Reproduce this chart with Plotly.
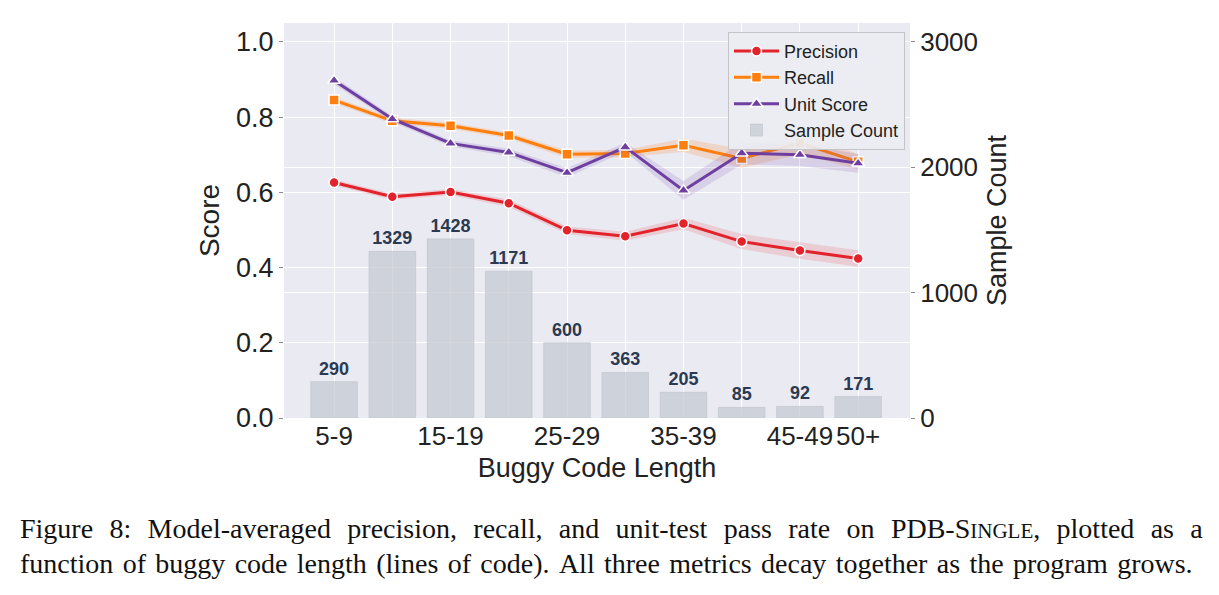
import plotly.graph_objects as go

categories = ["5-9", "10-14", "15-19", "20-24", "25-29", "30-34", "35-39", "40-44", "45-49", "50+"]
tick_labels = ["5-9", "", "15-19", "", "25-29", "", "35-39", "", "45-49", "50+"]
sample_count = [290, 1329, 1428, 1171, 600, 363, 205, 85, 92, 171]
precision = [0.626, 0.588, 0.601, 0.571, 0.499, 0.483, 0.517, 0.469, 0.445, 0.424]
recall = [0.845, 0.790, 0.777, 0.751, 0.701, 0.703, 0.725, 0.690, 0.731, 0.681]
unit_score = [0.897, 0.795, 0.730, 0.706, 0.652, 0.720, 0.605, 0.704, 0.700, 0.677]
precision_ci = [0.008, 0.008, 0.008, 0.010, 0.010, 0.012, 0.015, 0.020, 0.022, 0.022]
recall_ci = [0.008, 0.008, 0.008, 0.008, 0.010, 0.010, 0.018, 0.025, 0.030, 0.020]
unit_ci = [0.010, 0.008, 0.008, 0.010, 0.012, 0.012, 0.025, 0.030, 0.030, 0.025]

caption_line1 = ["Figure", "8:", "Model-averaged", "precision,", "recall,", "and", "unit-test",
                 "pass", "rate", "on", "PDB-S<span style='font-size:21px'>INGLE</span>,",
                 "plotted", "as", "a"]
caption_line2 = ["function", "of", "buggy", "code", "length", "(lines", "of", "code).", "All",
                 "three", "metrics", "decay", "together", "as", "the", "program", "grows."]

x = list(range(len(categories)))

fig = go.Figure()

# bars on primary axis (displayed on right)
fig.add_trace(go.Bar(
    x=x, y=sample_count, name="Sample Count", width=0.8,
    marker=dict(color="rgba(195,201,208,0.72)", line=dict(color="rgba(190,195,205,0.6)", width=1)),
    text=[str(v) for v in sample_count], textposition="outside",
    textfont=dict(family="Liberation Sans", size=18, color="#2B3A52", weight="bold"),
    cliponaxis=False, yaxis="y", legendrank=4,
))

series = [
    ("Precision", precision, precision_ci, "#E3232B", "rgba(227,35,43,0.15)", "circle", 10),
    ("Recall", recall, recall_ci, "#FF7F0E", "rgba(255,127,14,0.18)", "square", 10),
    ("Unit Score", unit_score, unit_ci, "#6E3FA0", "rgba(110,63,160,0.15)", "triangle-up", 11),
]
rank = 1
for name, vals, ci, col, fillcol, sym, ms in series:
    upper = [v + c for v, c in zip(vals, ci)]
    lower = [v - c for v, c in zip(vals, ci)]
    fig.add_trace(go.Scatter(
        x=x + x[::-1], y=upper + lower[::-1], fill="toself", fillcolor=fillcol,
        line=dict(width=0), mode="lines", hoverinfo="skip", showlegend=False, yaxis="y2",
    ))
    fig.add_trace(go.Scatter(
        x=x, y=vals, name=name, mode="lines+markers", yaxis="y2",
        line=dict(color=col, width=3),
        marker=dict(symbol=sym, size=ms, color=col, line=dict(color="white", width=1.5)),
        legendrank=rank,
    ))
    rank += 1

cap_font = dict(family="Liberation Serif", size=28, color="#111111")

fig.update_layout(
    width=1219, height=595,
    margin=dict(l=284, r=309, t=23, b=177),
    paper_bgcolor="white", plot_bgcolor="#EAEAF2",
    font=dict(family="Liberation Sans", color="#222222"),
    showlegend=True,
    legend=dict(x=0.992, y=0.978, xanchor="right", yanchor="top",
                bgcolor="rgba(236,237,242,0.92)", bordercolor="#C4C4C8", borderwidth=1,
                font=dict(size=18, color="#222222"), tracegroupgap=0, itemwidth=45),
    bargap=0.2,
    xaxis=dict(
        tickmode="array", tickvals=x, ticktext=tick_labels, range=[-0.86, 9.89],
        showgrid=True, gridcolor="white", gridwidth=1, zeroline=False,
        tickfont=dict(size=26, color="#222222"), ticks="", showline=False,
        title=dict(text="Buggy Code Length", font=dict(size=27, color="#222222"), standoff=8),
    ),
    yaxis=dict(
        side="right", range=[0, 3150], tickvals=[0, 1000, 2000, 3000],
        showgrid=True, gridcolor="white", gridwidth=1, zeroline=False,
        tickfont=dict(size=26, color="#222222"), ticks="outside", ticklen=4, tickcolor="#888888",
        title=dict(text="Sample Count", font=dict(size=27, color="#222222"), standoff=10),
    ),
    yaxis2=dict(
        side="left", overlaying="y", range=[0, 1.05], tickvals=[0, 0.2, 0.4, 0.6, 0.8, 1.0],
        tickformat=".1f", showgrid=True, gridcolor="white", gridwidth=1, zeroline=False,
        tickfont=dict(size=27, color="#222222"), ticks="outside", ticklen=4, tickcolor="#888888",
        title=dict(text="Score", font=dict(size=28, color="#222222"), standoff=8),
    ),
    annotations=[
        dict(text="\u00a0\u200a ".join(caption_line1), xref="paper", yref="paper",
             x=-0.425, y=-0.235, xanchor="left", yanchor="top", showarrow=False, align="left",
             font=cap_font),
        dict(text=" \u200a".join(caption_line2), xref="paper", yref="paper",
             x=-0.425, y=-0.325, xanchor="left", yanchor="top", showarrow=False, align="left",
             font=cap_font),
    ],
)

fig.write_html("out.html")
